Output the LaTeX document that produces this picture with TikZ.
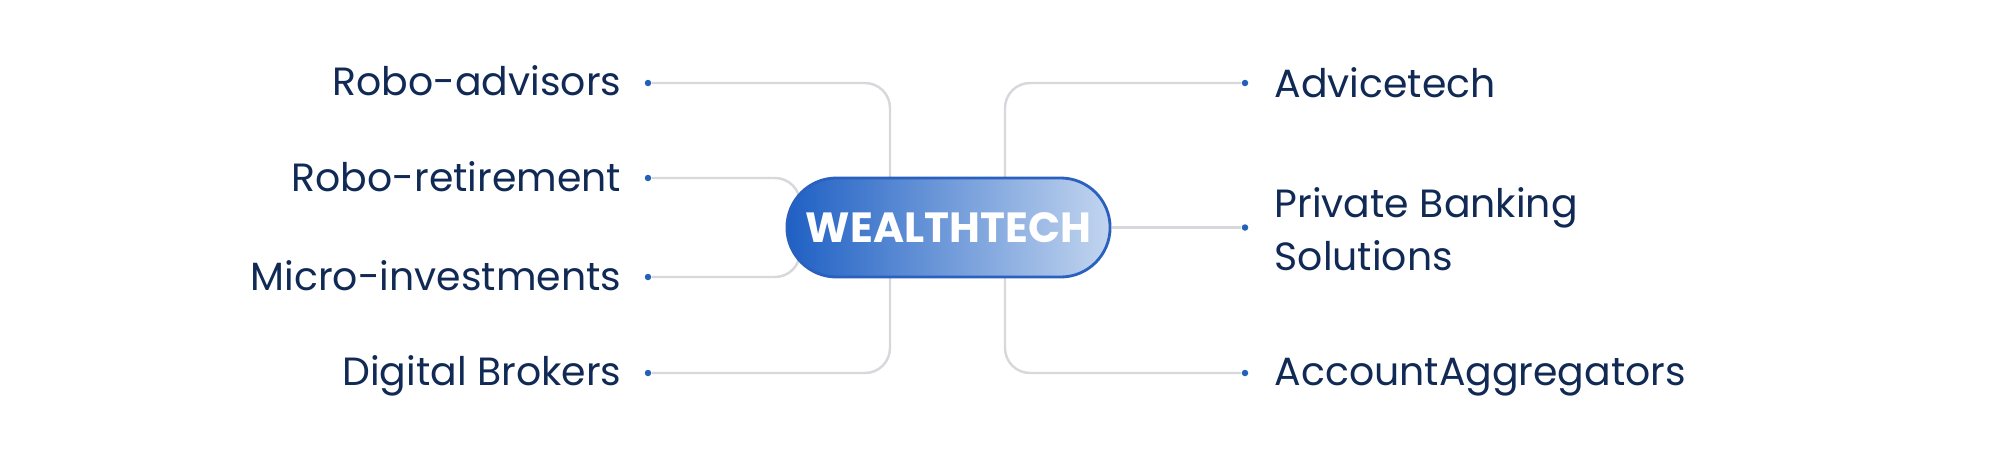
\documentclass[tikz,border=0pt]{standalone}
\usepackage{fontspec}
\setmainfont{Poppins}
\usetikzlibrary{shapes.misc}
\definecolor{navy}{HTML}{112A55}
\definecolor{dotblue}{HTML}{2361B8}
\definecolor{linegrey}{HTML}{D6D8DC}
\definecolor{pilldark}{HTML}{1F60C4}
\definecolor{pilllight}{HTML}{C2D5EF}
\definecolor{pillborder}{HTML}{2A60BE}
\tikzset{
  px/.style={x=0.01cm,y=-0.01cm},
  label/.style={font=\fontsize{11.2}{15}\selectfont, text=navy, inner sep=0pt},
  dotnode/.style={circle, fill=dotblue, inner sep=0pt, minimum size=0.065cm},
  conn/.style={draw=linegrey, line width=0.7pt, rounded corners=0.25cm},
  pill/.style={rounded rectangle, draw=pillborder, line width=0.8pt, left color=pilldark, right color=pilllight,
    minimum width=3.23cm, minimum height=0.99cm, inner sep=0pt,
    font=\fontsize{12}{15}\bfseries\selectfont, text=white}
}
\begin{document}
\begin{tikzpicture}[px]
\useasboundingbox (0,0) rectangle (1999,460);
% left labels
\node[label, anchor=base east] (la) at (622,95) {Robo-advisors};
\node[label, anchor=base east] (lb) at (622,191) {Robo-retirement};
\node[label, anchor=base east] (lc) at (622,290) {Micro-investments};
\node[label, anchor=base east] (ld) at (622,385) {Digital Brokers};
\node[dotnode] (da) at (648,83) {};
\node[dotnode] (db) at (648,178) {};
\node[dotnode] (dc) at (648,277) {};
\node[dotnode] (dd) at (648,373) {};
% right labels
\node[dotnode] (ea) at (1245,83) {};
\node[dotnode] (eb) at (1245,227.5) {};
\node[dotnode] (ec) at (1245,373) {};
\node[label, anchor=base west] (ra) at (1274,97) {Advicetech};
\node[label, anchor=west, align=left, font=\fontsize{11.2}{15.1}\selectfont] (rb) at (1274,229) {Private Banking\\Solutions};
\node[label, anchor=base west] (rc) at (1274,385) {AccountAggregators};
% connectors
\coordinate (lt) at (890,83);
\coordinate (lbm) at (890,373);
\coordinate (rt) at (1005,83);
\coordinate (rbm) at (1005,373);
\coordinate (b1) at (800,178);
\coordinate (b2) at (800,227);
\coordinate (c1) at (800,277);
\draw[conn] (da) -- (lt) -- (lbm) -- (dd);
\draw[conn] (ea) -- (rt) -- (rbm) -- (ec);
\draw[conn] (db) -- (b1) -- (b2);
\draw[conn] (dc) -- (c1) -- (b2);
% center pill
\node[pill] (w) at (948.5,227.5) {WEALTHTECH};
\draw[draw=linegrey, line width=0.7pt] (w.east) -- (eb);
\end{tikzpicture}
\end{document}
